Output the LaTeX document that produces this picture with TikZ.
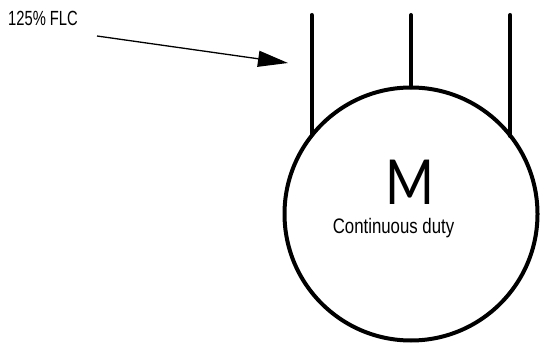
\documentclass[tikz,border=0pt]{standalone}
\usepackage{fontspec}
\setmainfont{Liberation Sans}
\newfontfamily\narrowfont[FakeStretch=0.8]{Liberation Sans}
\newfontfamily\narrowerfont[FakeStretch=0.72]{Liberation Sans}
\newfontfamily\thinfont[FakeStretch=0.85]{Lato}
\usetikzlibrary{arrows.meta,positioning}

\tikzset{
    wire/.style={line width=4pt, line cap=round},
    motor/.style={circle, draw, line width=4pt, minimum size=253pt, inner sep=0pt, outer sep=0pt},
    tag/.style={font=\narrowfont\fontsize{21}{23}\selectfont, inner sep=0pt, anchor=base},
    pointer/.style={line width=1.3pt, -{Triangle[length=30pt,width=16pt]}},
}

\begin{document}
\begin{tikzpicture}[x=1pt,y=1pt]
    \useasboundingbox (0,0) rectangle (540,345);

    \node[motor] (m) at (411,131) {};
    \coordinate (t1) at (311.7,330);
    \coordinate (t2) at (411,330);
    \coordinate (t3) at (510.3,330);

    \draw[wire] (t1) -- (t1 |- m.141.7);
    \draw[wire] (t2) -- (m.north);
    \draw[wire] (t3) -- (t3 |- m.38.3);

    \node[font=\thinfont\fontsize{62}{62}\selectfont, inner sep=0pt] (mtext) at (410,163) {M};
    \node[tag] (duty) at (393.5,111.5) {Continuous duty};

    \node[tag, font=\narrowerfont\fontsize{20.5}{23}\selectfont] (flc) at (43,319.3) {125\% FLC};
    \coordinate (tail) at (97,309);
    \coordinate (tip) at (288,282);
    \draw[pointer] (tail) -- (tip);
\end{tikzpicture}
\end{document}
